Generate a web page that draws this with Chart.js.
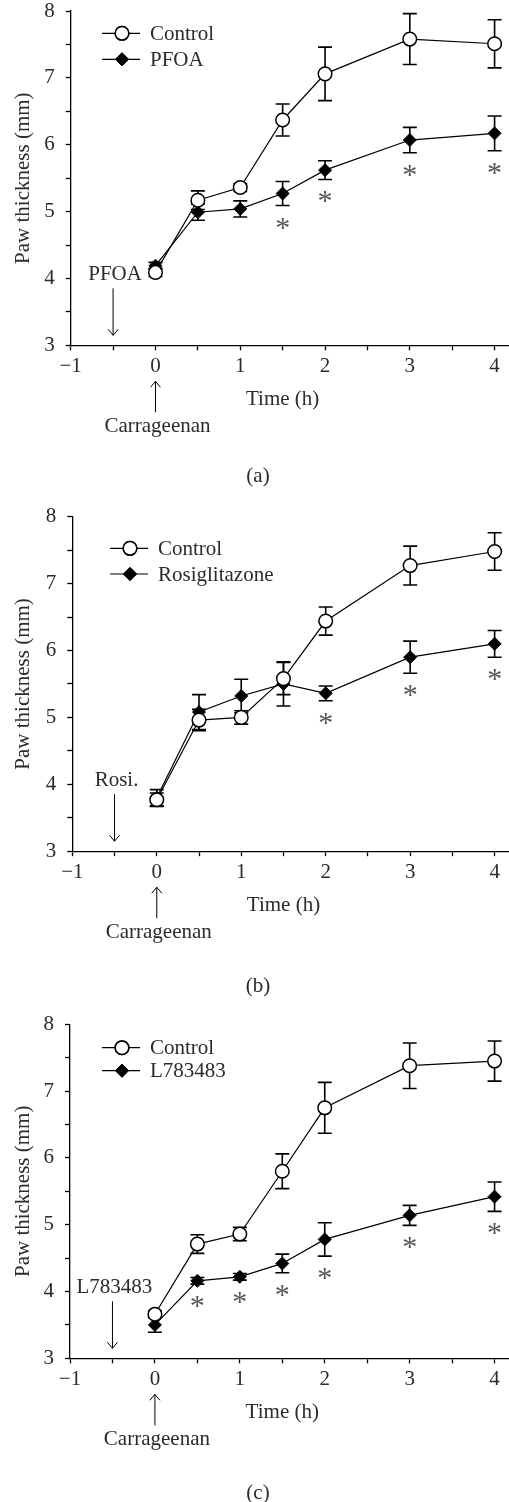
<!DOCTYPE html>
<html>
<head>
<meta charset="utf-8">
<script src="https://cdn.jsdelivr.net/npm/chart.js@4.4.0/dist/chart.umd.min.js"></script>
<style>
  html, body { margin: 0; padding: 0; background: #fff; }
  body { width: 509px; height: 1502px; position: relative; overflow: hidden; }
  canvas { position: absolute; left: 0; }
</style>
</head>
<body>
<canvas id="chartA" width="509" height="500" style="top:0px"></canvas>
<canvas id="chartB" width="509" height="500" style="top:500px"></canvas>
<canvas id="chartC" width="509" height="502" style="top:1000px"></canvas>
<script>
const FONT = "'Liberation Serif', 'Times New Roman', serif";
const TEXT = '#2b2b2b';

//----DATA----------------------------
const times = [0, 0.5, 1, 1.5, 2, 3, 4];
const xTicks = [-1, -0.5, 0, 0.5, 1, 1.5, 2, 2.5, 3, 3.5, 4];
const xLabels = [-1, 0, 1, 2, 3, 4];
const yTicks = [3, 3.5, 4, 4.5, 5, 5.5, 6, 6.5, 7, 7.5, 8];
const yLabels = [3, 4, 5, 6, 7, 8];

// (a) PFOA
const controlA    = [4.09, 5.17, 5.36, 6.37, 7.06, 7.58, 7.51];
const controlAErr = [0.06, 0.14, 0.06, 0.24, 0.40, 0.38, 0.36];
const pfoa        = [4.19, 4.99, 5.04, 5.27, 5.62, 6.07, 6.17];
const pfoaErr     = [0.05, 0.12, 0.12, 0.18, 0.14, 0.19, 0.26];
const starsA      = [1.5, 2, 3, 4];

// (b) Rosiglitazone
const controlB    = [3.77, 4.96, 5.00, 5.58, 6.44, 7.27, 7.48];
const controlBErr = [0.10, 0.16, 0.10, 0.24, 0.21, 0.29, 0.28];
const rosi        = [3.80, 5.08, 5.32, 5.50, 5.36, 5.90, 6.10];
const rosiErr     = [0.12, 0.26, 0.25, 0.33, 0.11, 0.24, 0.20];
const starsB      = [2, 3, 4];

// (c) L783483
const controlC    = [3.66, 4.71, 4.86, 5.80, 6.75, 7.38, 7.45];
const controlCErr = [0.05, 0.14, 0.10, 0.26, 0.38, 0.34, 0.30];
const l783        = [3.50, 4.16, 4.22, 4.42, 4.78, 5.14, 5.42];
const l783Err     = [0.11, 0.05, 0.05, 0.14, 0.25, 0.15, 0.22];
const starsC      = [0.5, 1, 1.5, 2, 3, 4];

//----PANEL SETUP (layout only)----------
const panels = [
  { id: 'chartA', letter: '(a)', name: 'PFOA', tag: 'PFOA',
    control: controlA, controlErr: controlAErr, treated: pfoa, treatedErr: pfoaErr, stars: starsA,
    left: 70.7, top: 11, bottom: 345.3, legendX: 31.3, legendY: [22.3, 48.3], letterY: 131 },
  { id: 'chartB', letter: '(b)', name: 'Rosiglitazone', tag: 'Rosi.',
    control: controlB, controlErr: controlBErr, treated: rosi, treatedErr: rosiErr, stars: starsB,
    left: 72.3, top: 16.7, bottom: 351.2, legendX: 37.7, legendY: [31.6, 57.3], letterY: 135 },
  { id: 'chartC', letter: '(c)', name: 'L783483', tag: 'L783483',
    control: controlC, controlErr: controlCErr, treated: l783, treatedErr: l783Err, stars: starsC,
    left: 70, top: 24.3, bottom: 358.3, legendX: 32, legendY: [23.4, 46.4], letterY: 135 }
];

const fmt = v => (v < 0 ? '\u2212' + Math.abs(v) : String(v));

function arrow(ctx, x, y1, y2) {
  const dir = Math.sign(y2 - y1);
  ctx.beginPath();
  ctx.moveTo(x, y1);
  ctx.lineTo(x, y2);
  ctx.moveTo(x - 5, y2 - dir * 6);
  ctx.lineTo(x, y2);
  ctx.lineTo(x + 5, y2 - dir * 6);
  ctx.stroke();
}

//----PLUGINS----------------------------
const errorBars = {
  id: 'errorBars',
  beforeDatasetsDraw(chart) {
    const { ctx, scales: { x, y } } = chart;
    ctx.save();
    ctx.strokeStyle = '#000';
    ctx.lineWidth = 1.6;
    chart.data.datasets.forEach(ds => {
      ds.data.forEach((pt, i) => {
        const e = ds.errors[i];
        const px = x.getPixelForValue(pt.x);
        const top = y.getPixelForValue(pt.y + e);
        const bot = y.getPixelForValue(pt.y - e);
        ctx.beginPath();
        ctx.moveTo(px, top); ctx.lineTo(px, bot);
        ctx.moveTo(px - 7, top); ctx.lineTo(px + 7, top);
        ctx.moveTo(px - 7, bot); ctx.lineTo(px + 7, bot);
        ctx.stroke();
      });
    });
    ctx.restore();
  }
};

const asterisks = {
  id: 'asterisks',
  afterDatasetsDraw(chart, args, opts) {
    const { ctx, scales: { x, y } } = chart;
    const ds = chart.data.datasets[1];
    ctx.save();
    ctx.fillStyle = '#555';
    ctx.font = '30px ' + FONT;
    ctx.textAlign = 'center';
    ctx.textBaseline = 'alphabetic';
    opts.stars.forEach(t => {
      const i = times.indexOf(t);
      const py = y.getPixelForValue(ds.data[i].y - ds.errors[i]) + 17;
      ctx.fillText('*', x.getPixelForValue(t), py + 14);
    });
    ctx.restore();
  }
};

const captions = {
  id: 'captions',
  afterDraw(chart, args, opts) {
    const { ctx, chartArea: { top, bottom, left }, scales: { x, y } } = chart;
    ctx.save();
    ctx.fillStyle = TEXT;
    ctx.strokeStyle = '#000';
    ctx.lineWidth = 1;
    ctx.font = '21px ' + FONT;
    ctx.textBaseline = 'middle';
    ctx.textAlign = 'center';

    // y title
    ctx.save();
    ctx.translate(23.3, (top + bottom) / 2);
    ctx.rotate(-Math.PI / 2);
    ctx.fillText('Paw thickness (mm)', 0, 0);
    ctx.restore();

    // drug given at -0.5 h
    const xd = x.getPixelForValue(-0.5);
    ctx.fillText(opts.tag, xd + 2, bottom - 71);
    arrow(ctx, xd, bottom - 57, bottom - 10);

    // carrageenan at 0 h
    const x0 = x.getPixelForValue(0);
    arrow(ctx, x0, bottom + 67, bottom + 36);
    ctx.fillText('Carrageenan', x0 + 2, bottom + 81);
    ctx.fillText('Time (h)', x.getPixelForValue(1.5), bottom + 54);

    // panel letter
    ctx.fillText(opts.letter, 258, bottom + opts.letterY);

    // legend
    ctx.textAlign = 'left';
    chart.data.datasets.forEach((ds, i) => {
      const ly = top + opts.legendY[i];
      const lx = left + opts.legendX;
      ctx.beginPath();
      ctx.lineWidth = 1.2;
      ctx.moveTo(lx, ly); ctx.lineTo(lx + 38, ly);
      ctx.stroke();
      ctx.fillStyle = ds.pointBackgroundColor;
      ctx.lineWidth = ds.pointBorderWidth;
      Chart.helpers.drawPoint(ctx, { pointStyle: ds.pointStyle, radius: ds.pointRadius, borderWidth: ds.pointBorderWidth }, lx + 20, ly);
      ctx.fill();
      ctx.stroke();
      ctx.fillStyle = TEXT;
      ctx.fillText(ds.label, lx + 48, ly + 1);
    });
    ctx.restore();
  }
};

//----CHARTS-----------------------------
panels.forEach(p => {
  const canvas = document.getElementById(p.id);
  const H = canvas.height;
  const xAxisH = 30;
  const data = {
    datasets: [
      {
        label: 'Control',
        data: times.map((t, i) => ({ x: t, y: p.control[i] })),
        errors: p.controlErr,
        borderColor: '#000', borderWidth: 1.2,
        pointStyle: 'circle', pointRadius: 6.8,
        pointBackgroundColor: '#fff', pointBorderColor: '#000', pointBorderWidth: 1.5
      },
      {
        label: p.name,
        data: times.map((t, i) => ({ x: t, y: p.treated[i] })),
        errors: p.treatedErr,
        borderColor: '#000', borderWidth: 1.2,
        pointStyle: 'rectRot', pointRadius: 6.5,
        pointBackgroundColor: '#000', pointBorderColor: '#000', pointBorderWidth: 1
      }
    ]
  };
  new Chart(canvas, {
    type: 'line',
    data,
    options: {
      responsive: false,
      animation: false,
      events: [],
      devicePixelRatio: 1,
      layout: { autoPadding: false, padding: { top: p.top, left: 0, right: 0, bottom: H - p.bottom - xAxisH } },
      scales: {
        x: {
          type: 'linear', min: -1, max: 4.17,
          afterBuildTicks: s => { s.ticks = xTicks.map(v => ({ value: v })); },
          afterFit: s => { s.height = xAxisH; s.paddingLeft = 0; s.paddingRight = 0; },
          grid: { drawOnChartArea: false, drawTicks: true, tickLength: 5, tickColor: '#000', tickWidth: 1.3 },
          border: { color: '#000', width: 1.3 },
          ticks: {
            color: TEXT, font: { family: FONT, size: 21 }, padding: 4,
            maxRotation: 0, autoSkip: false,
            callback: v => (xLabels.includes(v) ? fmt(v) : '')
          }
        },
        y: {
          type: 'linear', min: 3, max: 8,
          afterBuildTicks: s => { s.ticks = yTicks.map(v => ({ value: v })); },
          afterFit: s => { s.width = p.left; s.paddingTop = 0; s.paddingBottom = 0; },
          grid: { drawOnChartArea: false, drawTicks: true, tickLength: 5, tickColor: '#000', tickWidth: 1.3 },
          border: { color: '#000', width: 1.3 },
          ticks: {
            color: TEXT, font: { family: FONT, size: 21, lineHeight: 1 }, padding: 11,
            autoSkip: false,
            callback: v => (yLabels.includes(v) ? fmt(v) : '')
          }
        }
      },
      plugins: {
        legend: { display: false },
        tooltip: { enabled: false },
        asterisks: { stars: p.stars },
        captions: { tag: p.tag, letter: p.letter, legendX: p.legendX, legendY: p.legendY, letterY: p.letterY }
      }
    },
    plugins: [errorBars, asterisks, captions]
  });
});
</script>
</body>
</html>
